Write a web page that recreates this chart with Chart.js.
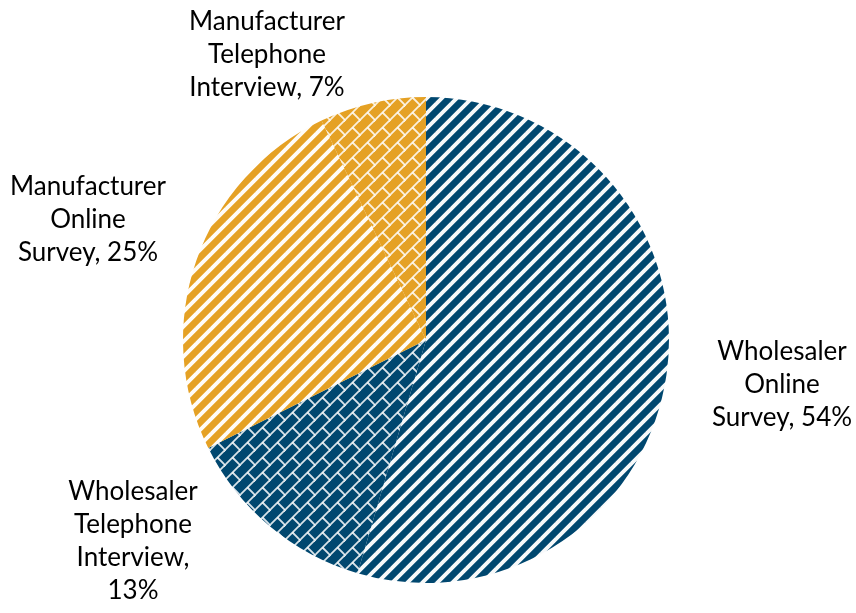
<!DOCTYPE html>
<html>
<head>
<meta charset="utf-8">
<script src="https://cdn.jsdelivr.net/npm/chart.js@4/dist/chart.umd.min.js"></script>
<style>
  html, body { margin: 0; padding: 0; background: #fff; }
  #wrap { width: 856px; height: 613px; }
</style>
</head>
<body>
<div id="wrap"><canvas id="c" width="856" height="613"></canvas></div>
<script>
// Survey responses by respondent type and mode
const categories = [
  "Wholesaler Online Survey",
  "Wholesaler Telephone Interview",
  "Manufacturer Online Survey",
  "Manufacturer Telephone Interview"
];
const shares = [54, 13, 25, 7];

// Lines of each outside label (text only)
const labelLines = [
  ["Wholesaler", "Online", "Survey, 54%"],
  ["Wholesaler", "Telephone", "Interview,", "13%"],
  ["Manufacturer", "Online", "Survey, 25%"],
  ["Manufacturer", "Telephone", "Interview, 7%"]
];

const NAVY = "#00476f";
const GOLD = "#e5a124";
const TILE = 15;

// Hatch fills: wide upward diagonal stripes and diagonal brick
function stripePattern(base) {
  const T = TILE;
  const cv = document.createElement("canvas");
  cv.width = T; cv.height = T;
  const g = cv.getContext("2d");
  g.fillStyle = base; g.fillRect(0, 0, T, T);
  g.strokeStyle = "rgba(255,255,255,0.97)"; g.lineWidth = 3.9; g.lineCap = "butt";
  for (let k = -1; k <= 1; k++) {
    g.beginPath();
    g.moveTo(k * T - 3, T + 3);
    g.lineTo(k * T + T + 3, -3);
    g.stroke();
  }
  return g.createPattern(cv, "repeat");
}
function brickPattern(base) {
  const T = TILE;
  const cv = document.createElement("canvas");
  cv.width = T; cv.height = T;
  const g = cv.getContext("2d");
  g.fillStyle = base; g.fillRect(0, 0, T, T);
  g.strokeStyle = "rgba(255,255,255,0.85)"; g.lineWidth = 1.8;
  for (let k = -1; k <= 1; k++) {
    g.beginPath();
    g.moveTo(k * T - 3, T + 3);
    g.lineTo(k * T + T + 3, -3);
    g.stroke();
  }
  // short cross joints between neighbouring diagonal courses
  g.beginPath();
  g.moveTo(T / 2, T / 2);
  g.lineTo(T + 1, T + 1);
  g.stroke();
  g.beginPath();
  g.moveTo(-1, -1);
  g.lineTo(0.6, 0.6);
  g.stroke();
  return g.createPattern(cv, "repeat");
}

const fills = [stripePattern(NAVY), brickPattern(NAVY), stripePattern(GOLD), brickPattern(GOLD)];

// Anchor (centre of the first text line) for each slice label
const labelAnchors = [
  { x: 782, y: 352 },
  { x: 133, y: 492 },
  { x: 88,  y: 187 },
  { x: 267, y: 22 }
];

const outsideLabels = {
  id: "outsideLabels",
  afterDatasetsDraw(chart) {
    const ctx = chart.ctx;
    ctx.save();
    ctx.fillStyle = "#000";
    ctx.font = "26px Lato, 'Open Sans', sans-serif";
    ctx.textAlign = "center";
    ctx.textBaseline = "middle";
    const lh = 33;
    labelLines.forEach((lines, i) => {
      const a = labelAnchors[i];
      lines.forEach((t, j) => ctx.fillText(t, a.x, a.y + j * lh));
    });
    ctx.restore();
  }
};

new Chart(document.getElementById("c"), {
  type: "pie",
  data: {
    labels: categories,
    datasets: [{
      data: shares,
      backgroundColor: fills,
      borderWidth: 0
    }]
  },
  options: {
    responsive: false,
    animation: false,
    events: [],
    layout: { padding: { top: 97, bottom: 30, left: 183, right: 187 } },
    plugins: {
      legend: { display: false },
      tooltip: { enabled: false }
    }
  },
  plugins: [outsideLabels]
});
</script>
</body>
</html>
